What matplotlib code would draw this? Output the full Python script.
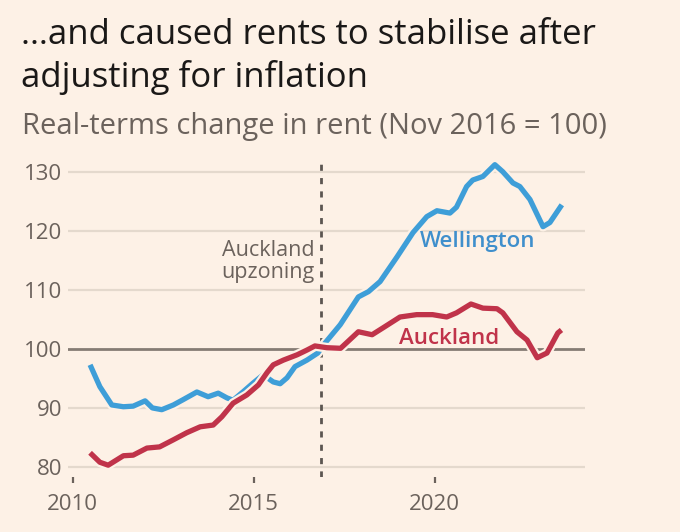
import matplotlib
matplotlib.use("Agg")
import matplotlib.pyplot as plt
import matplotlib.patheffects as pe

# Wellington real-terms rent index (Nov 2016 = 100)
wellington_years = [2010.48, 2010.75, 2011.08, 2011.4, 2011.67, 2012.0, 2012.2, 2012.46,
                    2012.78, 2013.05, 2013.43, 2013.74, 2014.02, 2014.26, 2014.43, 2014.7,
                    2014.98, 2015.26, 2015.54, 2015.73, 2015.92, 2016.14, 2016.47, 2016.77,
                    2016.97, 2017.39, 2017.89, 2018.17, 2018.49, 2018.96, 2019.4, 2019.78,
                    2020.06, 2020.42, 2020.6, 2020.88, 2021.05, 2021.33, 2021.66, 2021.88,
                    2022.16, 2022.35, 2022.63, 2022.99, 2023.18, 2023.51]
wellington_values = [97.3, 93.6, 90.5, 90.2, 90.3, 91.2, 90.0, 89.7,
                     90.5, 91.4, 92.7, 91.9, 92.5, 91.7, 91.3, 92.7,
                     94.2, 95.6, 94.4, 94.1, 95.1, 97.0, 98.1, 99.3,
                     101.0, 104.1, 108.8, 109.7, 111.4, 115.6, 119.7, 122.4,
                     123.4, 123.0, 124.0, 127.5, 128.6, 129.2, 131.2, 130.0,
                     128.1, 127.5, 125.3, 120.7, 121.4, 124.4]

# Auckland real-terms rent index (Nov 2016 = 100)
auckland_years = [2010.48, 2010.75, 2010.98, 2011.4, 2011.67, 2012.05, 2012.4, 2012.78,
                  2013.15, 2013.52, 2013.88, 2014.12, 2014.43, 2014.81, 2015.13, 2015.37,
                  2015.54, 2015.82, 2016.2, 2016.47, 2016.69, 2017.02, 2017.4, 2017.89,
                  2018.27, 2018.58, 2019.04, 2019.5, 2019.94, 2020.33, 2020.6, 2021.0,
                  2021.33, 2021.72, 2021.88, 2022.27, 2022.55, 2022.83, 2023.1, 2023.4,
                  2023.5]
auckland_values = [82.4, 80.8, 80.3, 81.9, 82.0, 83.2, 83.4, 84.6,
                   85.8, 86.8, 87.1, 88.5, 90.8, 92.2, 93.9, 96.0,
                   97.3, 98.1, 99.0, 99.8, 100.5, 100.2, 100.1, 102.9,
                   102.4, 103.6, 105.4, 105.8, 105.8, 105.4, 106.1, 107.6,
                   106.9, 106.8, 106.1, 102.9, 101.5, 98.5, 99.3, 102.7,
                   103.2]

y_ticks = [80, 90, 100, 110, 120, 130]
x_ticks = [2010, 2015, 2020]
upzoning_date = 2016.85

PAPER = "#fdf1e6"
TEXT_GREY = "#6b625c"
BLUE = "#3e9ed8"
RED = "#c0334a"

plt.rcParams["font.family"] = ["Open Sans", "DejaVu Sans"]

fig = plt.figure(figsize=(6.8, 5.32), dpi=100, facecolor=PAPER)
ax = fig.add_axes([68 / 680, 1 - 477 / 532, (585 - 68) / 680, (477 - 157) / 532])
ax.set_facecolor(PAPER)
ax.set_xlim(2009.87, 2024.15)
ax.set_ylim(78.3, 132.5)

for v in y_ticks:
    if v == 100:
        continue
    ax.axhline(v, color="#e4d9cd", lw=1.6, zorder=1)
ax.axhline(100, color="#857c74", lw=2.0, zorder=2)

ax.axvline(upzoning_date, color="#5c5651", lw=2.0, dashes=(2.2, 2.6), zorder=2)

halo = [pe.Stroke(linewidth=7, foreground=PAPER), pe.Normal()]
ax.plot(wellington_years, wellington_values, color=BLUE, lw=3.8, zorder=3,
        solid_capstyle="butt", solid_joinstyle="round", path_effects=halo)
ax.plot(auckland_years, auckland_values, color=RED, lw=3.8, zorder=4,
        solid_capstyle="butt", solid_joinstyle="round", path_effects=halo)

ax.text(2019.6, 117.2, "Wellington", color="#3f8fcc", fontsize=16, fontweight="semibold",
        ha="left", va="baseline")
ax.text(2019.0, 100.9, "Auckland", color=RED, fontsize=16, fontweight="semibold",
        ha="left", va="baseline")
ax.text(2016.67, 114.8, "Auckland\nupzoning", color=TEXT_GREY, fontsize=15.5,
        ha="right", va="center", linespacing=1.05)

for side in ["top", "right", "left", "bottom"]:
    ax.spines[side].set_visible(False)
ax.set_yticks(y_ticks)
ax.set_xticks(x_ticks)
ax.tick_params(axis="y", length=0, pad=4, labelsize=16, labelcolor=TEXT_GREY)
ax.tick_params(axis="x", length=4.5, width=1.6, color="#6b625c", pad=8,
               labelsize=16, labelcolor=TEXT_GREY)

fig.text(21 / 680, 1 - 44 / 532, "\u2026and caused rents to stabilise after",
         fontsize=25, color="#1a1817", ha="left", va="baseline")
fig.text(21 / 680, 1 - 87 / 532, "adjusting for inflation",
         fontsize=25, color="#1a1817", ha="left", va="baseline")
fig.text(22 / 680, 1 - 134 / 532, "Real-terms change in rent (Nov 2016 = 100)",
         fontsize=21, color=TEXT_GREY, ha="left", va="baseline")

fig.savefig("out.png", dpi=100, facecolor=PAPER)
